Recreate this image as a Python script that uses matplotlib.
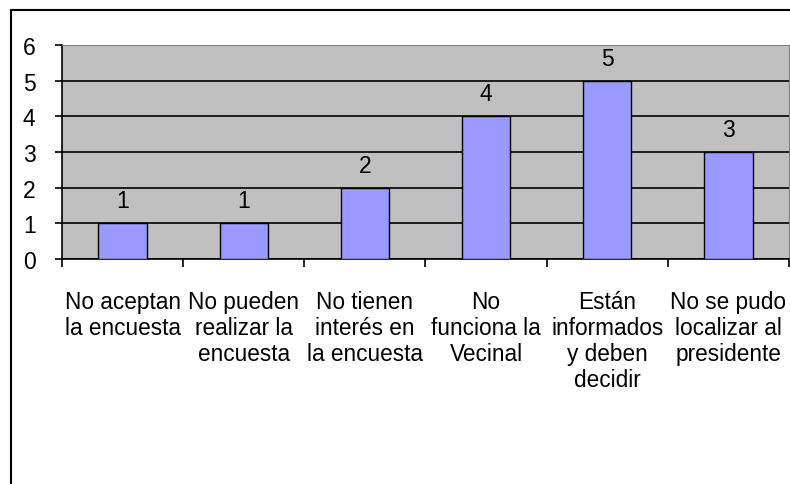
import matplotlib.pyplot as plt
from matplotlib.patches import Rectangle

plt.rcParams['font.family'] = ['Liberation Sans', 'DejaVu Sans']

categories = ['No aceptan\nla encuesta', 'No pueden\nrealizar la\nencuesta',
              'No tienen\ninterés en\nla encuesta', 'No\nfunciona la\nVecinal',
              'Están\ninformados\ny deben\ndecidir', 'No se pudo\nlocalizar al\npresidente']
values = [1, 1, 2, 4, 5, 3]

W, H = 790, 485
fig = plt.figure(figsize=(W / 100, H / 100), dpi=100)

# chart border (only top/left visible, rest cut off)
fig.patches.append(Rectangle((11 / W, -0.1), 1.2, (H - 11) / H + 0.1,
                             transform=fig.transFigure, fill=False,
                             edgecolor='black', linewidth=1.5))

ax = fig.add_axes([62 / W, (H - 260) / H, (789 - 62) / W, (260 - 46) / H])
ax.set_facecolor('#C0C0C0')
x = range(len(values))
bars = ax.bar(x, values, width=0.4, color='#9999FF', edgecolor='black', linewidth=1, zorder=3)
for xi, v in zip(x, values):
    ax.annotate(str(v), (xi, v), xytext=(0, 8), textcoords='offset points',
                ha='center', va='bottom', fontsize=16.5)

ax.set_xlim(-0.5, len(values) - 0.5)
ax.set_ylim(0, 6)
ax.set_yticks(range(7))
ax.yaxis.grid(True, color='black', linewidth=1.2, zorder=1)
ax.set_axisbelow(True)

ax.set_xticks([i - 0.5 for i in range(len(values) + 1)], minor=False)
ax.set_xticklabels([])
ax.set_xticks(list(x), minor=True)
ax.set_xticklabels(categories, minor=True, fontsize=16.3, linespacing=1.18)
ax.tick_params(axis='x', which='minor', length=0, pad=22)
ax.tick_params(axis='x', which='major', length=6, width=1.2, direction='out')
ax.tick_params(axis='y', length=5, width=1.2, labelsize=16.5, pad=14)
for lbl in ax.get_xticklabels(minor=True):
    lbl.set_verticalalignment('top')

ax.spines['left'].set_linewidth(1.2)
ax.spines['bottom'].set_linewidth(1.2)
ax.spines['top'].set_color('#808080')
ax.spines['right'].set_color('#808080')

fig.savefig('out.png', dpi=100)
